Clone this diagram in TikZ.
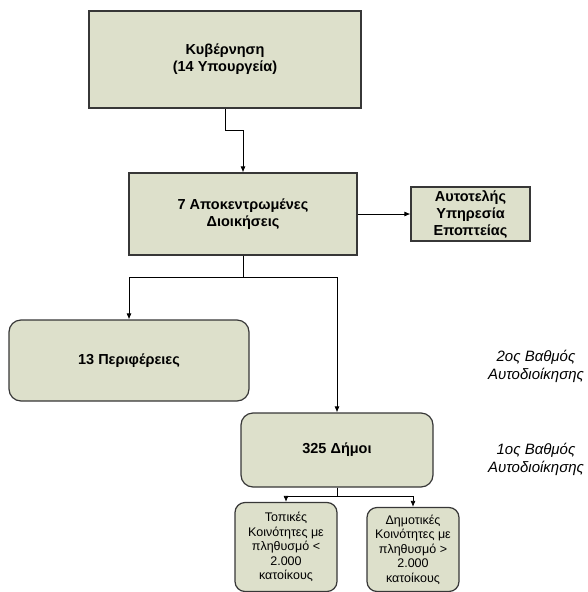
\documentclass[tikz,border=0pt]{standalone}
\usepackage{fontspec}
\setmainfont{Liberation Sans}
\usepackage{tikz}
\usetikzlibrary{arrows.meta}
\definecolor{boxfill}{RGB}{221,224,203}
\definecolor{boxline}{RGB}{55,55,55}

\begin{document}
\begin{tikzpicture}[
		x=1pt, y=-1pt,
		box/.style={rectangle, draw=boxline, line width=1.2pt, fill=boxfill, align=center, inner sep=0pt,
			font=\bfseries\fontsize{14.5}{17}\selectfont},
		rbox/.style={box, rounded corners=12pt},
		sbox/.style={box, rounded corners=10pt, font=\fontsize{12.5}{14.5}\selectfont},
		lbl/.style={align=center, font=\itshape\fontsize{15}{18}\selectfont},
		arr/.style={draw=black, line width=0.8pt, -{Latex[length=6pt,width=5pt]}}
	]
		\useasboundingbox (0,0) rectangle (587,592);
		\node[box, minimum width=272pt, minimum height=97pt](kyv) at (225,59.5){Κυβέρνηση\\(14 Υπουργεία)};
		\node[box, minimum width=228pt, minimum height=82pt](apok) at (243,214){7 Αποκεντρωμένες\\Διοικήσεις};
		\node[box, minimum width=119pt, minimum height=54pt](yep) at (470.5,214){Αυτοτελής\\Υπηρεσία\\Εποπτείας};
		\node[rbox, minimum width=240pt, minimum height=81pt](per) at (129,360.5){13 Περιφέρειες};
		\node[rbox, minimum width=192pt, minimum height=74pt](dim) at (337,450){325 Δήμοι};
		\node[sbox, minimum width=102pt, minimum height=89pt](tk) at (286,547){Τοπικές\\Κοινότητες με\\πληθυσμό <\\2.000\\κατοίκους};
		\node[sbox, minimum width=92pt, minimum height=84pt](dk) at (413,549.5){Δημοτικές\\Κοινότητες με\\πληθυσμό >\\2.000\\κατοίκους};
		
		\node[lbl](b2) at (536,366){2ος Βαθμός\\Αυτοδιοίκησης};
		\node[lbl](b1) at (536,459){1ος Βαθμός\\Αυτοδιοίκησης};
		
		\draw[arr](kyv.south) -- ++(0,22) -| (apok.north);
		\draw[arr](apok) -- (yep);
		\draw[arr](apok.south) -- ++(0,22) -| (per.north);
		\draw[arr](apok.south) -- ++(0,22) -| (dim.north);
		\draw[arr](dim.south) -- ++(0,9) -| (tk.north);
		\draw[arr](dim.south) -- ++(0,9) -| (dk.north);
	\end{tikzpicture}
\end{document}
